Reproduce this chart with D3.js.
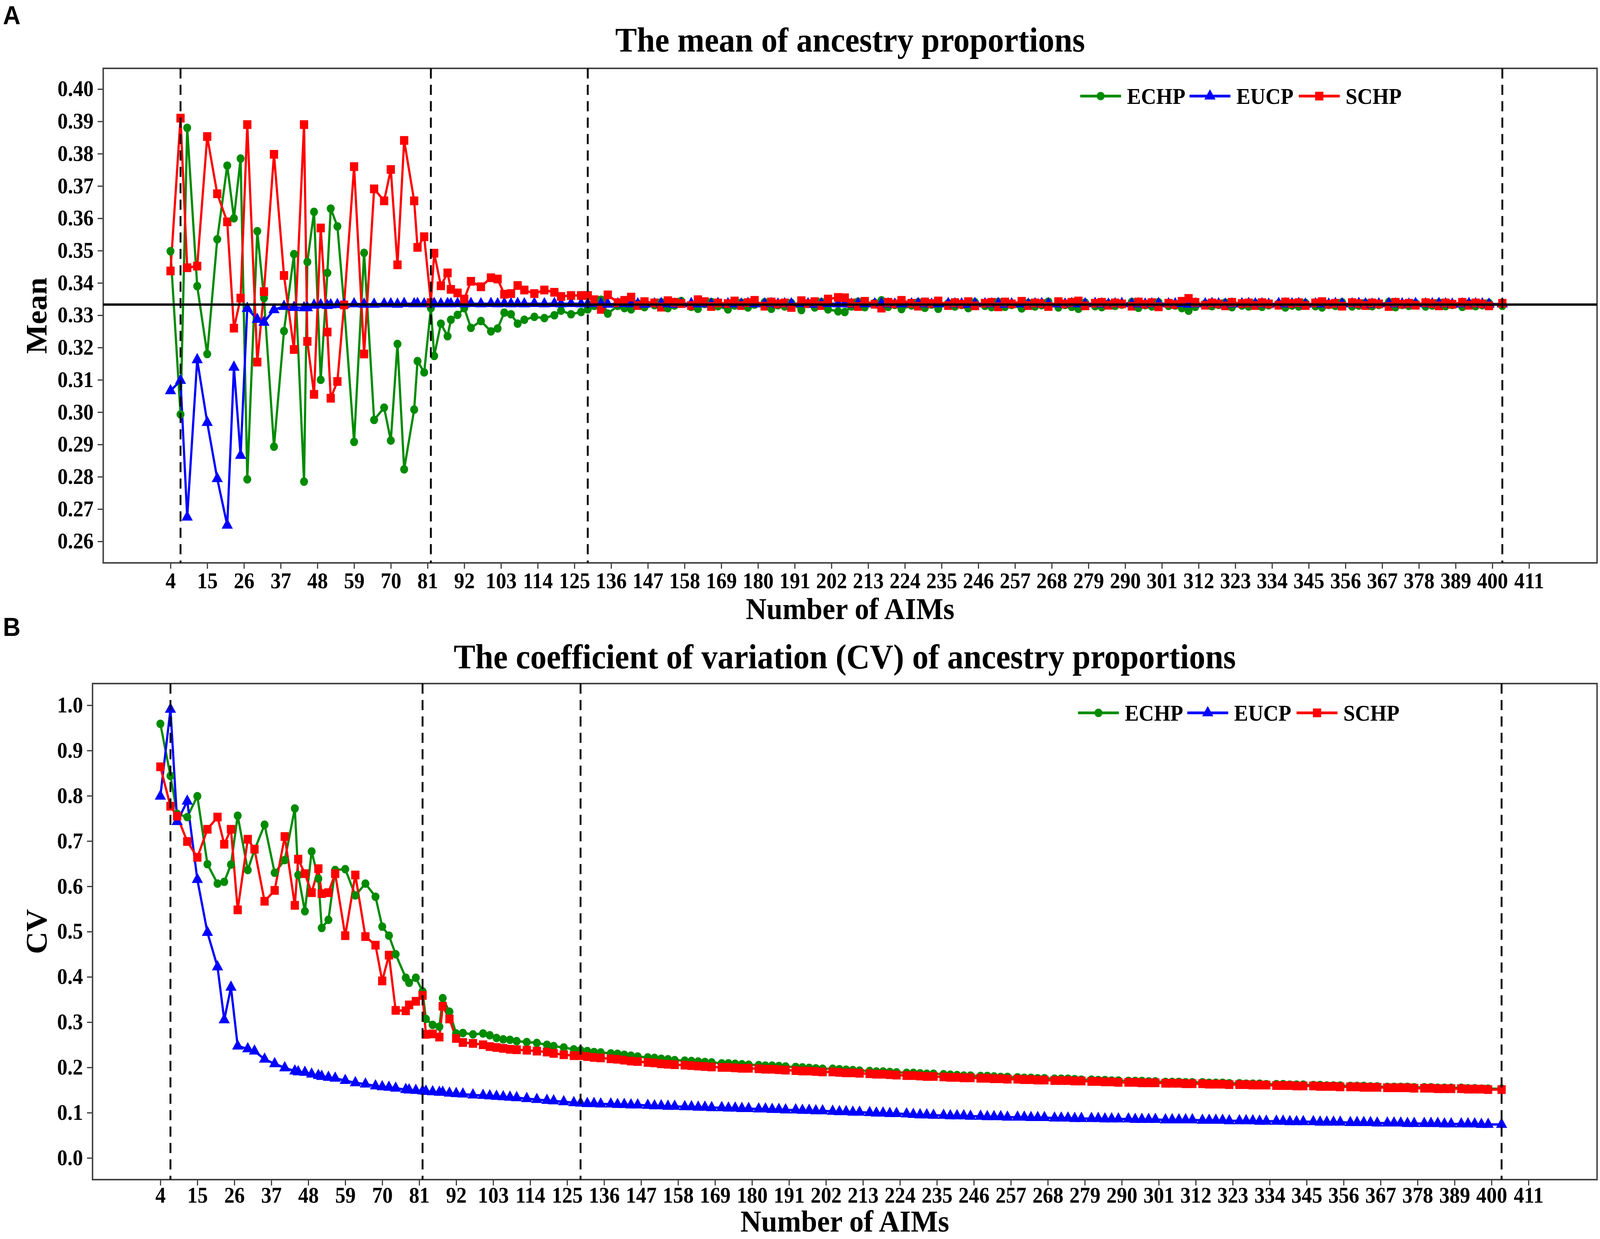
<!DOCTYPE html>
<html>
<head>
<meta charset="utf-8">
<script src="https://cdn.jsdelivr.net/npm/d3@7"></script>
<style>
  html, body { margin: 0; padding: 0; background: #fff; overflow: hidden; }
  #fig { display: block; width: 100vw; height: 100vh; }
</style>
</head>
<body>
<svg id="fig"></svg>
<script>
// number of AIMs at each step
const aims = [
  4,7,9,12,15,18,21,23,25,27,
  30,32,35,38,41,44,45,47,49,51,
  52,54,56,59,62,65,68,70,72,74,
  77,78,80,82,83,85,87,88,90,92,
  94,97,100,102,104,106,108,110,113,116,
  119,121,124,127,
  129,131,133,135,138,140,142,144,146,149,
  151,153,155,157,160,162,164,166,168,171,
  173,175,177,179,182,184,186,188,190,193,
  195,197,199,201,204,206,208,210,212,215,
  217,219,221,223,226,228,230,232,234,237,
  239,241,243,245,248,250,252,254,256,259,
  261,263,265,267,270,272,274,276,278,281,
  283,285,287,289,292,294,296,298,300,303,
  305,307,309,311,314,316,318,320,322,325,
  327,329,331,333,336,338,340,342,344,347,
  349,351,353,355,358,360,362,364,366,369,
  371,373,375,377,380,382,384,386,388,391,
  393,395,397,399,403
];

// panel A: mean of ancestry proportions
const meanECHP = [
  .3498,.2993,.3880,.3390,.3180,.3535,.3763,.3600,.3785,.2792,
  .3560,.3353,.2893,.3251,.3489,.2785,.3465,.3620,.3100,.3431,
  .3630,.3575,.3332,.2908,.3493,.2976,.3014,.2912,.3211,.2823,
  .3008,.3158,.3123,.3322,.3174,.3274,.3235,.3286,.3301,.3322,
  .3261,.3282,.3250,.3259,.3308,.3303,.3274,.3286,.3295,.3291,
  .3300,.3314,.3303,.3310,
  .3318,.3329,.3348,.3305,.3329,.3322,.3318,.3336,.3325,.3331,
  .3340,.3322,.3330,.3344,.3326,.3320,.3335,.3341,.3328,.3318,
  .3330,.3339,.3324,.3333,.3340,.3320,.3331,.3327,.3338,.3316,
  .3335,.3324,.3341,.3318,.3312,.3310,.3327,.3342,.3325,.3338,
  .3346,.3326,.3332,.3319,.3330,.3340,.3323,.3333,.3320,.3337,
  .3327,.3332,.3322,.3340,.3329,.3325,.3341,.3326,.3332,.3321,
  .3338,.3327,.3331,.3342,.3324,.3332,.3326,.3320,.3339,.3328,
  .3325,.3336,.3329,.3333,.3341,.3323,.3331,.3327,.3340,.3329,
  .3330,.3322,.3314,.3326,.3336,.3328,.3332,.3339,.3325,.3330,
  .3327,.3337,.3326,.3331,.3336,.3324,.3330,.3327,.3338,.3328,
  .3324,.3332,.3329,.3340,.3327,.3330,.3338,.3328,.3332,.3341,
  .3325,.3332,.3329,.3337,.3327,.3330,.3339,.3328,.3332,.3326,
  .3337,.3328,.3331,.3338,.3329
];
const meanEUCP = [
  .3066,.3098,.2675,.3162,.2968,.2794,.2650,.3139,.2866,.3321,
  .3287,.3278,.3317,.3327,.3324,.3323,.3323,.3331,.3332,.3330,
  .3332,.3333,.3333,.3335,.3334,.3334,.3335,.3335,.3334,.3336,
  .3335,.3336,.3335,.3335,.3336,.3335,.3336,.3335,.3336,.3335,
  .3336,.3335,.3336,.3335,.3336,.3335,.3336,.3335,.3336,.3335,
  .3336,.3335,.3336,.3335,
  .3335,.3336,.3335,.3334,.3335,.3336,.3335,.3335,.3334,.3335,
  .3336,.3335,.3334,.3335,.3336,.3335,.3335,.3334,.3336,.3335,
  .3335,.3334,.3336,.3335,.3335,.3336,.3334,.3335,.3335,.3336,
  .3335,.3334,.3335,.3336,.3335,.3335,.3334,.3336,.3335,.3335,
  .3336,.3335,.3334,.3335,.3335,.3336,.3335,.3334,.3335,.3336,
  .3335,.3335,.3334,.3336,.3335,.3335,.3336,.3334,.3335,.3335,
  .3334,.3335,.3336,.3335,.3335,.3334,.3336,.3335,.3335,.3336,
  .3335,.3334,.3335,.3336,.3335,.3335,.3334,.3335,.3336,.3335,
  .3335,.3336,.3334,.3335,.3335,.3336,.3335,.3334,.3335,.3335,
  .3336,.3335,.3335,.3334,.3336,.3335,.3335,.3336,.3334,.3335,
  .3335,.3334,.3336,.3335,.3335,.3336,.3335,.3334,.3335,.3336,
  .3335,.3335,.3334,.3336,.3335,.3335,.3336,.3335,.3334,.3335,
  .3336,.3335,.3335,.3334,.3335
];
const meanSCHP = [
  .3437,.3910,.3447,.3452,.3853,.3676,.3589,.3260,.3353,.3890,
  .3155,.3373,.3798,.3423,.3194,.3890,.3219,.3055,.3570,.3248,
  .3043,.3095,.3332,.3760,.3180,.3691,.3654,.3751,.3456,.3841,
  .3654,.3510,.3543,.3339,.3492,.3391,.3431,.3380,.3369,.3350,
  .3405,.3388,.3416,.3412,.3365,.3367,.3392,.3378,.3367,.3378,
  .3371,.3358,.3361,.3361,
  .3361,.3348,.3318,.3363,.3339,.3346,.3356,.3330,.3342,.3338,
  .3325,.3345,.3340,.3336,.3330,.3348,.3342,.3327,.3338,.3336,
  .3344,.3330,.3339,.3346,.3328,.3341,.3335,.3338,.3324,.3345,
  .3336,.3342,.3330,.3350,.3355,.3354,.3338,.3327,.3343,.3334,
  .3322,.3340,.3335,.3346,.3337,.3328,.3341,.3336,.3344,.3330,
  .3339,.3334,.3342,.3329,.3337,.3340,.3326,.3341,.3335,.3343,
  .3330,.3338,.3336,.3327,.3342,.3335,.3340,.3344,.3329,.3337,
  .3340,.3331,.3338,.3335,.3328,.3341,.3334,.3339,.3326,.3337,
  .3333,.3343,.3352,.3340,.3331,.3338,.3335,.3329,.3340,.3336,
  .3338,.3330,.3339,.3335,.3331,.3341,.3336,.3339,.3330,.3338,
  .3342,.3334,.3337,.3328,.3339,.3336,.3330,.3338,.3335,.3327,
  .3340,.3334,.3337,.3331,.3339,.3336,.3329,.3338,.3334,.3340,
  .3331,.3338,.3335,.3329,.3337
];

// panel B: coefficient of variation
const cvECHP = [
  .959,.844,.760,.753,.799,.649,.606,.610,.648,.756,
  .636,.680,.736,.630,.658,.772,.625,.545,.677,.617,
  .508,.526,.636,.638,.580,.606,.577,.511,.491,.450,
  .398,.387,.398,.368,.307,.294,.290,.353,.323,.275,
  .276,.273,.275,.271,.265,.262,.261,.258,.256,.254,
  .250,.247,.244,.240,
  .238,.236,.234,.233,.231,.230,.228,.226,.224,.222,
  .221,.219,.218,.216,.215,.214,.213,.212,.211,.209,
  .209,.208,.207,.206,.205,.204,.204,.203,.202,.201,
  .200,.199,.198,.197,.197,.196,.195,.194,.193,.192,
  .191,.191,.190,.189,.188,.188,.187,.186,.186,.185,
  .184,.183,.182,.182,.181,.181,.180,.179,.179,.178,
  .177,.177,.176,.176,.175,.175,.175,.174,.173,.173,
  .172,.172,.171,.171,.170,.170,.170,.169,.169,.168,
  .168,.168,.167,.167,.167,.166,.166,.166,.165,.165,
  .164,.164,.164,.163,.163,.163,.162,.162,.162,.161,
  .161,.160,.160,.160,.159,.159,.159,.158,.158,.157,
  .157,.157,.157,.156,.156,.156,.155,.155,.155,.155,
  .154,.154,.153,.153,.153
];
const cvEUCP = [
  .799,.991,.743,.788,.615,.498,.422,.305,.377,.247,
  .241,.236,.218,.208,.199,.192,.190,.189,.185,.182,
  .180,.178,.176,.171,.166,.163,.159,.157,.156,.154,
  .151,.150,.149,.148,.147,.146,.145,.145,.143,.142,
  .141,.139,.138,.137,.136,.135,.134,.133,.131,.129,
  .127,.126,.124,.122,
  .121,.120,.120,.119,.119,.118,.118,.117,.117,.116,
  .115,.115,.114,.114,.113,.113,.112,.112,.111,.111,
  .110,.110,.109,.109,.108,.108,.107,.107,.106,.106,
  .105,.105,.104,.104,.103,.102,.102,.101,.101,.100,
  .099,.099,.098,.098,.097,.096,.095,.095,.094,.094,
  .093,.093,.093,.092,.092,.091,.091,.091,.090,.090,
  .090,.089,.089,.089,.088,.088,.088,.087,.087,.087,
  .087,.086,.086,.086,.086,.085,.085,.085,.085,.084,
  .084,.084,.084,.084,.083,.083,.083,.083,.082,.082,
  .082,.082,.081,.081,.081,.081,.080,.080,.080,.080,
  .079,.079,.079,.079,.078,.078,.078,.078,.077,.077,
  .077,.077,.076,.076,.076,.076,.076,.075,.075,.075,
  .075,.075,.074,.074,.074
];
const cvSCHP = [
  .864,.777,.755,.699,.664,.726,.753,.693,.726,.548,
  .704,.682,.567,.591,.710,.558,.660,.628,.586,.639,
  .584,.586,.628,.491,.625,.489,.470,.391,.448,.326,
  .325,.338,.346,.359,.273,.274,.267,.335,.307,.264,
  .255,.253,.250,.246,.244,.242,.240,.239,.238,.236,
  .234,.231,.228,.226,
  .226,.224,.222,.221,.219,.218,.216,.214,.213,.211,
  .210,.208,.207,.206,.205,.204,.203,.202,.201,.200,
  .200,.199,.198,.198,.197,.196,.196,.195,.194,.193,
  .192,.192,.191,.190,.190,.189,.188,.188,.187,.186,
  .185,.185,.184,.183,.182,.182,.181,.180,.180,.179,
  .178,.178,.177,.177,.176,.176,.175,.175,.174,.174,
  .173,.173,.172,.172,.171,.171,.171,.170,.170,.169,
  .169,.168,.168,.167,.167,.167,.166,.166,.166,.165,
  .165,.165,.164,.164,.164,.163,.163,.163,.162,.162,
  .162,.161,.161,.161,.160,.160,.160,.159,.159,.159,
  .158,.158,.158,.157,.157,.157,.156,.156,.156,.155,
  .155,.155,.155,.154,.154,.154,.153,.153,.153,.153,
  .152,.152,.152,.151,.151
];

const seriesNames = ['ECHP', 'EUCP', 'SCHP'];
const xTicks = [4,15,26,37,48,59,70,81,92,103,114,125,136,147,158,169,180,191,202,
  213,224,235,246,257,268,279,290,301,312,323,334,345,356,367,378,389,400,411];
const meanTicks = [0.26,0.27,0.28,0.29,0.30,0.31,0.32,0.33,0.34,0.35,0.36,0.37,0.38,0.39,0.40];
const cvTicks = [0.0,0.1,0.2,0.3,0.4,0.5,0.6,0.7,0.8,0.9,1.0];
const cutoffs = [7, 82, 129, 403];
const meanRef = 0.3333;

// ---- layout ----
const W = 4340, H = 3172;
const serif = '"Liberation Serif", "Times New Roman", serif';
const colors = ['#008b00', '#0000ff', '#ff0000'];
const shapes = [d3.symbolCircle, d3.symbolTriangle, d3.symbolSquare];
const sizes = [370, 400, 500];

// the drawing fills the whole viewport
const svg = d3.select('#fig')
    .attr('viewBox', `0 0 ${W} ${H}`)
    .attr('preserveAspectRatio', 'none')
    .style('background', '#fff');

const panels = [
  {
    tag: 'A', tagY: 62,
    title: 'The mean of ancestry proportions', titleY: 132,
    ylab: 'Mean', xlabY: 1585, xPad: 10,
    series: [meanECHP, meanEUCP, meanSCHP],
    yTicks: meanTicks, fmt: d3.format('.2f'),
    box: { l: 280, r: 4332, t: 175, b: 1441 },
    xRange: [462.5, 4147.5],
    yDomain: [0.26, 0.40], yRange: [1386, 228],
    legend: { x: 2930, y: 246 },
    ref: meanRef
  },
  {
    tag: 'B', tagY: 1628,
    title: 'The coefficient of variation (CV) of ancestry proportions', titleY: 1711,
    ylab: 'CV', xlabY: 3153, xPad: 4,
    series: [cvECHP, cvEUCP, cvSCHP],
    yTicks: cvTicks, fmt: d3.format('.1f'),
    box: { l: 251, r: 4332, t: 1750, b: 3020 },
    xRange: [435, 4146],
    yDomain: [0, 1], yRange: [2964.5, 1805.5],
    legend: { x: 2924, y: 1825 },
    ref: null
  }
];

function drawPanel(p) {
    const g = svg.append('g');
    const box = p.box;

    const x = d3.scaleLinear().domain([4, 411]).range(p.xRange);
    const y = d3.scaleLinear().domain(p.yDomain).range(p.yRange);

    // axes
    const xAxis = d3.axisBottom(x)
        .tickValues(xTicks)
        .tickSize(15)
        .tickSizeOuter(0)
        .tickPadding(p.xPad);
    const yAxis = d3.axisLeft(y)
        .tickValues(p.yTicks)
        .tickFormat(p.fmt)
        .tickSize(15)
        .tickSizeOuter(0)
        .tickPadding(11);

    const xg = g.append('g')
        .attr('transform', `translate(0, ${box.b})`)
        .call(xAxis);
    const yg = g.append('g')
        .attr('transform', `translate(${box.l}, 0)`)
        .call(yAxis);

    [xg, yg].forEach(ax => {
        ax.select('.domain').remove();
        ax.selectAll('.tick line').attr('stroke', '#333').attr('stroke-width', 3);
        ax.selectAll('.tick text')
            .attr('fill', '#000')
            .style('font-family', serif)
            .style('font-weight', 'bold')
            .style('font-size', '56px');
    });

    // panel border
    g.append('rect')
        .attr('x', box.l)
        .attr('y', box.t)
        .attr('width', box.r - box.l)
        .attr('height', box.b - box.t)
        .attr('fill', 'none')
        .attr('stroke', '#444')
        .attr('stroke-width', 4);

    // lines
    const line = d3.line()
        .x((d, i) => x(aims[i]))
        .y(d => y(d));

    g.selectAll('path.series')
        .data(p.series)
        .enter()
        .append('path')
        .attr('class', 'series')
        .attr('d', line)
        .attr('fill', 'none')
        .attr('stroke', (d, i) => colors[i])
        .attr('stroke-width', 6)
        .attr('stroke-linejoin', 'round');

    // points, drawn step by step like the original plot
    const pts = [];
    aims.forEach((a, i) => {
        p.series.forEach((s, k) => pts.push({ a: a, v: s[i], k: k }));
    });
    g.selectAll('path.pt')
        .data(pts)
        .enter()
        .append('path')
        .attr('class', 'pt')
        .attr('d', d => d3.symbol().type(shapes[d.k]).size(sizes[d.k])())
        .attr('transform', d => `translate(${x(d.a)}, ${y(d.v)})`)
        .attr('fill', d => colors[d.k]);

    // reference line at 1/3
    if (p.ref !== null) {
        g.append('line')
            .attr('x1', box.l).attr('x2', box.r)
            .attr('y1', y(p.ref)).attr('y2', y(p.ref))
            .attr('stroke', '#000')
            .attr('stroke-width', 6);
    }

    // dashed cut-off lines
    g.selectAll('line.cut')
        .data(cutoffs)
        .enter()
        .append('line')
        .attr('class', 'cut')
        .attr('x1', d => x(d)).attr('x2', d => x(d))
        .attr('y1', box.t).attr('y2', box.b)
        .attr('stroke', '#000')
        .attr('stroke-width', 5)
        .attr('stroke-dasharray', '26,16');

    // legend
    const leg = g.append('g')
        .attr('transform', `translate(${p.legend.x}, ${p.legend.y})`);
    const items = leg.selectAll('g')
        .data(seriesNames)
        .enter()
        .append('g')
        .attr('transform', (d, i) => `translate(${i * 296.5}, 0)`);
    items.append('line')
        .attr('x1', 0).attr('x2', 111)
        .attr('y1', 0).attr('y2', 0)
        .attr('stroke', (d, i) => colors[i])
        .attr('stroke-width', 7);
    items.append('path')
        .attr('d', (d, i) => d3.symbol().type(shapes[i]).size(sizes[i])())
        .attr('transform', 'translate(55.5, 0)')
        .attr('fill', (d, i) => colors[i]);
    items.append('text')
        .attr('x', 127)
        .attr('y', 20)
        .text(d => d)
        .style('font-family', serif)
        .style('font-weight', 'bold')
        .style('font-size', '57px');

    // titles and labels
    const cx = (box.l + box.r) / 2;
    g.append('text')
        .attr('x', cx).attr('y', p.titleY)
        .attr('text-anchor', 'middle')
        .text(p.title)
        .style('font-family', serif)
        .style('font-weight', 'bold')
        .style('font-size', '88px');

    g.append('text')
        .attr('x', cx).attr('y', p.xlabY)
        .attr('text-anchor', 'middle')
        .text('Number of AIMs')
        .style('font-family', serif)
        .style('font-weight', 'bold')
        .style('font-size', '78px');

    g.append('text')
        .attr('transform', `translate(126, ${(box.t + box.b) / 2}) rotate(-90)`)
        .attr('text-anchor', 'middle')
        .text(p.ylab)
        .style('font-family', serif)
        .style('font-weight', 'bold')
        .style('font-size', '80px');

    g.append('text')
        .attr('x', 8).attr('y', p.tagY)
        .text(p.tag)
        .style('font-family', '"Liberation Sans", Arial, sans-serif')
        .style('font-weight', 'bold')
        .style('font-size', '66px');
}

panels.forEach(drawPanel);
</script>
</body>
</html>
